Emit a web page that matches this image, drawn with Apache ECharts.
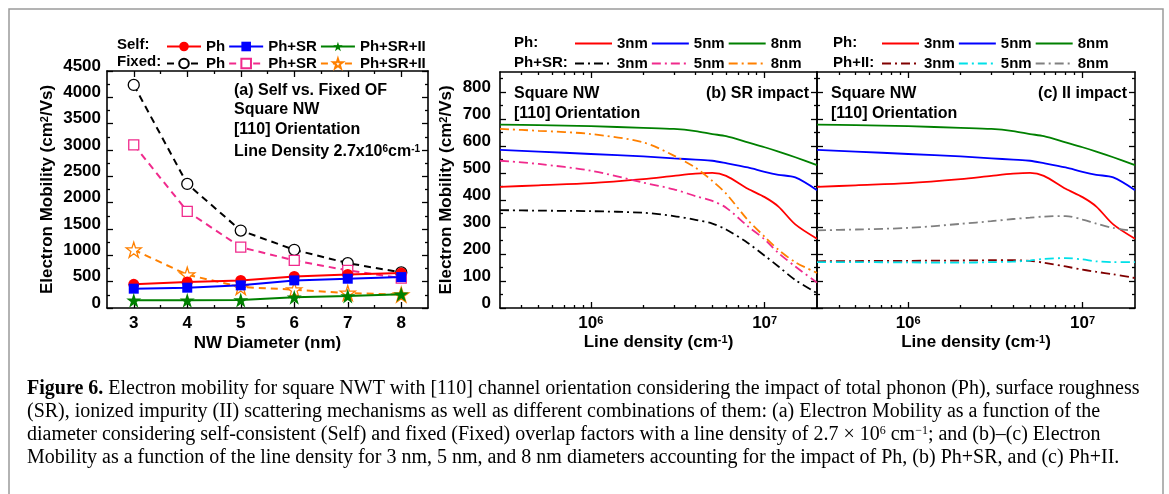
<!DOCTYPE html>
<html lang="en">
<head>
<meta charset="UTF-8">
<title>Figure 6</title>
<script src="https://cdn.jsdelivr.net/npm/echarts@6.0.0/dist/echarts.min.js"></script>
<style>
  html, body { margin: 0; padding: 0; background: #fff; }
  #chart { width: 1169px; height: 494px; }
</style>
</head>
<body>
<div id="chart"></div>
<script>
// (a) mobility vs NW diameter, line density 2.7e6 cm^-1
var diam = [3, 4, 5, 6, 7, 8];
var selfPh      = [449, 492, 524, 600, 638, 663];
var selfPhSR    = [367, 386, 430, 524, 556, 587];
var selfPhSRII  = [146, 146, 152, 203, 227, 259];
var fixedPh     = [4235, 2355, 1471, 1105, 852, 676];
var fixedPhSR   = [3099, 1836, 1155, 903, 714, 568];
var fixedPhSRII = [1105, 632, 398, 348, 284, 254];

// (b), (c) mobility vs line density
var density = [3e5, 5e5, 1e6, 2e6, 3e6, 4e6, 5e6, 6e6, 8e6, 1e7, 1.2e7, 1.5e7, 2e7];
var ph3   = [449, 455, 463, 478, 490, 498, 501, 490, 442, 411, 376, 310, 257];
var ph5   = [586, 580, 571, 562, 555, 550, 546, 537, 521, 505, 494, 484, 437];
var ph8   = [680, 678, 674, 668, 664, 656, 645, 637, 614, 596, 580, 559, 530];
var phSR3 = [363, 361, 359, 353, 341, 327, 313, 291, 241, 194, 154, 104, 55];
var phSR5 = [546, 534, 509, 465, 440, 415, 397, 372, 303, 254, 204, 154, 94];
var phSR8 = [664, 657, 645, 614, 565, 520, 471, 424, 326, 264, 216, 170, 130];
var phII3 = [173, 174, 175, 176, 177, 177, 175, 168, 154, 142, 134, 125, 111];
var phII5 = [170, 170, 169, 168, 170, 172, 176, 182, 185, 180, 173, 170, 170];
var phII8 = [288, 291, 297, 312, 322, 330, 335, 339, 341, 328, 313, 297, 285];

// tick values
var diamTicks = [3, 4, 5, 6, 7, 8];
var diamMinor = [3.5, 4.5, 5.5, 6.5, 7.5];
var mobTicksA = [0, 500, 1000, 1500, 2000, 2500, 3000, 3500, 4000, 4500];
var mobMinorA = [250, 750, 1250, 1750, 2250, 2750, 3250, 3750, 4250];
var mobTicksB = [0, 100, 200, 300, 400, 500, 600, 700, 800];
var mobMinorB = [50, 150, 250, 350, 450, 550, 650, 750, 850];
var densTicks = [1e6, 1e7];
var densMinor = [4e5, 5e5, 6e5, 7e5, 8e5, 9e5, 2e6, 3e6, 4e6, 5e6, 6e6, 7e6, 8e6, 9e6];

var FONT = 'Liberation Sans';
var SERIF = 'Liberation Serif';
var STAR = 'path://M50,2 L61,36 L97,36 L68,57 L79,92 L50,71 L21,92 L32,57 L3,36 L39,36 Z';

var chart = echarts.init(document.getElementById('chart'));

var xAxes = [], yAxes = [];

var nameRich = {
  n: { fontFamily: FONT, fontWeight: 'bold', fontSize: 17, color: '#000' },
  s: { fontFamily: FONT, fontWeight: 'bold', fontSize: 11, color: '#000', verticalAlign: 'top' }
};

// one axis per side and per tick size, so the box has ticks all round
function addFrame(list, grid, dim, type, min, max, major, minor, opt) {
  var first = list.length;
  var sides = dim === 'x' ? ['bottom', 'top'] : ['left', 'right'];
  sides.forEach(function (side, k) {
    [major, minor].forEach(function (vals, m) {
      var main = k === 0 && m === 0;
      var ax = {
        type: type, gridIndex: grid, position: side, min: min, max: max,
        axisLine: { show: m === 0, onZero: false, lineStyle: { color: '#000', width: 1.6 } },
        axisTick: { show: true, inside: true, length: m === 0 ? 6 : 3, customValues: vals,
                    lineStyle: { color: '#000', width: 1.3 } },
        axisLabel: { show: main && opt.labels, customValues: major, margin: opt.margin || 6,
                     color: '#000', fontFamily: FONT, fontWeight: 'bold', fontSize: 17,
                     formatter: opt.formatter || function (v) { return String(v); },
                     rich: opt.rich },
        splitLine: { show: false }
      };
      if (dim === 'y') {
        // labels sit a little above their ticks in the original
        ax.axisLabel.verticalAlign = 'bottom';
        ax.axisLabel.lineHeight = 10;
      }
      if (type === 'log') ax.logBase = 10;
      if (main && opt.name) {
        ax.name = opt.name;
        ax.nameLocation = 'middle';
        ax.nameGap = opt.nameGap;
        ax.nameTextStyle = { color: '#000', fontFamily: FONT, fontWeight: 'bold', fontSize: 17,
                             rich: nameRich };
      }
      list.push(ax);
    });
  });
  return first;
}

function powLabel(v) {
  return '{t|10}{s|' + Math.round(Math.log10(v)) + '}';
}
var powRich = {
  t: { fontFamily: FONT, fontWeight: 'bold', fontSize: 17, color: '#000' },
  s: { fontFamily: FONT, fontWeight: 'bold', fontSize: 11, color: '#000', verticalAlign: 'top' }
};

var xa = addFrame(xAxes, 0, 'x', 'value', 2.5, 8.5, diamTicks, diamMinor,
  { labels: true, name: 'NW Diameter (nm)', nameGap: 27, margin: 7 });
var ya = addFrame(yAxes, 0, 'y', 'value', 0, 4500, mobTicksA, mobMinorA,
  { labels: true, name: '{n|Electron Mobility (cm}{s|2}{n|/Vs)}', nameGap: 51, margin: 6 });
var xb = addFrame(xAxes, 1, 'x', 'log', 3e5, 2e7, densTicks, densMinor,
  { labels: true, name: '{n|Line density (cm}{s|-1}{n|)}', nameGap: 26, margin: 7,
    formatter: powLabel, rich: powRich });
var yb = addFrame(yAxes, 1, 'y', 'value', 0, 875, mobTicksB, mobMinorB,
  { labels: true, name: '{n|Electron Mobility (cm}{s|2}{n|/Vs)}', nameGap: 45, margin: 9 });
var xc = addFrame(xAxes, 2, 'x', 'log', 3e5, 2e7, densTicks, densMinor,
  { labels: true, name: '{n|Line density (cm}{s|-1}{n|)}', nameGap: 26, margin: 7,
    formatter: powLabel, rich: powRich });
var yc = addFrame(yAxes, 2, 'y', 'value', 0, 875, mobTicksB, mobMinorB, { labels: false });

function pairs(xs, ys) {
  return xs.map(function (x, i) { return [x, ys[i]]; });
}

function diamSeries(name, ys, color, dashed, symbol, size, hollow) {
  return {
    name: name, type: 'line', xAxisIndex: xa, yAxisIndex: ya,
    data: pairs(diam, ys), symbol: symbol, symbolSize: size,
    lineStyle: { color: color, width: 2, type: dashed ? [7, 5] : 'solid' },
    itemStyle: hollow ? { color: '#fff', borderColor: color, borderWidth: 1.3 } : { color: color },
    z: dashed ? 2 : 3
  };
}

function densSeries(name, xi, yi, ys, color, dashdot) {
  return {
    name: name, type: 'line', xAxisIndex: xi, yAxisIndex: yi,
    data: pairs(density, ys), showSymbol: false, symbol: 'none', smooth: 0.3,
    itemStyle: { color: color },
    lineStyle: { color: color, width: 1.8, type: dashdot ? [9, 4, 2, 4] : 'solid' }
  };
}

var RED = '#ff0000', BLUE = '#0000ff', GREEN = '#008000', PINK = '#f02a8c',
    ORANGE = '#ff8000', WINE = '#800000', CYAN = '#00e0e8', GRAY = '#808080';

var series = [
  diamSeries('fPh', fixedPh, '#000', true, 'circle', 11, true),
  diamSeries('fPhSR', fixedPhSR, PINK, true, 'rect', 10, true),
  diamSeries('fPhSRII', fixedPhSRII, ORANGE, true, STAR, 15, true),
  diamSeries('sPh', selfPh, RED, false, 'circle', 11, false),
  diamSeries('sPhSR', selfPhSR, BLUE, false, 'rect', 10, false),
  diamSeries('sPhSRII', selfPhSRII, GREEN, false, STAR, 15, false),

  densSeries('bPh3', xb, yb, ph3, RED, false),
  densSeries('bPh5', xb, yb, ph5, BLUE, false),
  densSeries('bPh8', xb, yb, ph8, GREEN, false),
  densSeries('bSR3', xb, yb, phSR3, '#000', true),
  densSeries('bSR5', xb, yb, phSR5, PINK, true),
  densSeries('bSR8', xb, yb, phSR8, ORANGE, true),

  densSeries('cPh3', xc, yc, ph3, RED, false),
  densSeries('cPh5', xc, yc, ph5, BLUE, false),
  densSeries('cPh8', xc, yc, ph8, GREEN, false),
  densSeries('cII3', xc, yc, phII3, WINE, true),
  densSeries('cII5', xc, yc, phII5, CYAN, true),
  densSeries('cII8', xc, yc, phII8, GRAY, true)
];

var legendText = {
  sPh: 'Ph', sPhSR: 'Ph+SR', sPhSRII: 'Ph+SR+II',
  fPh: 'Ph', fPhSR: 'Ph+SR', fPhSRII: 'Ph+SR+II',
  bPh3: '3nm', bPh5: '5nm', bPh8: '8nm', bSR3: '3nm', bSR5: '5nm', bSR8: '8nm',
  cPh3: '3nm', cPh5: '5nm', cPh8: '8nm', cII3: '3nm', cII5: '5nm', cII8: '8nm'
};

function legendRow(left, top, names, w, lineOnly) {
  var lg = {
    left: left, top: top, padding: 0, itemGap: 3, itemWidth: w, itemHeight: 12,
    selectedMode: false, data: names,
    formatter: function (n) { return legendText[n]; },
    textStyle: { color: '#000', fontFamily: FONT, fontWeight: 'bold', fontSize: 15 }
  };
  if (lineOnly) lg.itemStyle = { opacity: 0 };
  return lg;
}

var annRich = {
  n: { fontFamily: FONT, fontWeight: 'bold', fontSize: 16, fill: '#000' },
  s: { fontFamily: FONT, fontWeight: 'bold', fontSize: 10, fill: '#000', verticalAlign: 'top' }
};
function txt(x, y, text, align, size) {
  return {
    type: 'text', x: x, y: y,
    style: { text: text, align: align || 'left', verticalAlign: 'middle', fill: '#000',
             fontFamily: FONT, fontWeight: 'bold', fontSize: size || 16, rich: annRich }
  };
}

var capRich = {
  b: { fontFamily: SERIF, fontWeight: 'bold', fontSize: 20, fill: '#000' },
  r: { fontFamily: SERIF, fontSize: 20, fill: '#000' },
  s: { fontFamily: SERIF, fontSize: 12, fill: '#000', verticalAlign: 'top' }
};
var captionLines = [
  '{b|Figure 6.}{r| Electron mobility for square NWT with [110] channel orientation considering the impact of total phonon (Ph), surface roughness}',
  '{r|(SR), ionized impurity (II) scattering mechanisms as well as different combinations of them: (a) Electron Mobility as a function of the}',
  '{r|diameter considering self-consistent (Self) and fixed (Fixed) overlap factors with a line density of 2.7 \u00d7 10}{s|6}{r| cm}{s|\u22121}{r|; and (b)\u2013(c) Electron}',
  '{r|Mobility as a function of the line density for 3 nm, 5 nm, and 8 nm diameters accounting for the impact of Ph, (b) Ph+SR, and (c) Ph+II.}'
];
var captionY = [389, 412, 435, 458];

var graphics = [
  { type: 'rect', shape: { x: 9, y: 9, width: 1154, height: 520 },
    style: { fill: 'none', stroke: '#9a9a9a', lineWidth: 1.5 } },
  txt(117, 45, 'Self:', 'left', 15),
  txt(117, 62, 'Fixed:', 'left', 15),
  txt(514, 43, 'Ph:', 'left', 15),
  txt(514, 63, 'Ph+SR:', 'left', 15),
  txt(833, 43, 'Ph:', 'left', 15),
  txt(833, 63, 'Ph+II:', 'left', 15),
  txt(234, 91, '(a) Self vs. Fixed OF'),
  txt(234, 110, 'Square NW'),
  txt(234, 130, '[110] Orientation'),
  txt(234, 152, '{n|Line Density 2.7x10}{s|6}{n|cm}{s|-1}'),
  txt(514, 94, 'Square NW'),
  txt(514, 114, '[110] Orientation'),
  txt(809, 94, '(b) SR impact', 'right'),
  txt(831, 94, 'Square NW'),
  txt(831, 114, '[110] Orientation'),
  txt(1127, 94, '(c) II impact', 'right')
];
captionLines.forEach(function (line, i) {
  graphics.push({
    type: 'text', x: 27, y: captionY[i],
    style: { text: line, align: 'left', verticalAlign: 'middle', rich: capRich }
  });
});

chart.setOption({
  animation: false,
  backgroundColor: '#fff',
  grid: [
    { left: 107, top: 71, width: 321, height: 237 },
    { left: 500, top: 72, width: 317, height: 236 },
    { left: 817, top: 72, width: 318, height: 236 }
  ],
  xAxis: xAxes,
  yAxis: yAxes,
  legend: [
    legendRow(166, 39, ['sPh', 'sPhSR', 'sPhSRII'], 34, false),
    legendRow(166, 56, ['fPh', 'fPhSR', 'fPhSRII'], 34, false),
    legendRow(574, 36, ['bPh3', 'bPh5', 'bPh8'], 37, true),
    legendRow(574, 56, ['bSR3', 'bSR5', 'bSR8'], 37, true),
    legendRow(881, 36, ['cPh3', 'cPh5', 'cPh8'], 37, true),
    legendRow(881, 56, ['cII3', 'cII5', 'cII8'], 37, true)
  ],
  series: series,
  graphic: graphics
});
</script>
</body>
</html>
